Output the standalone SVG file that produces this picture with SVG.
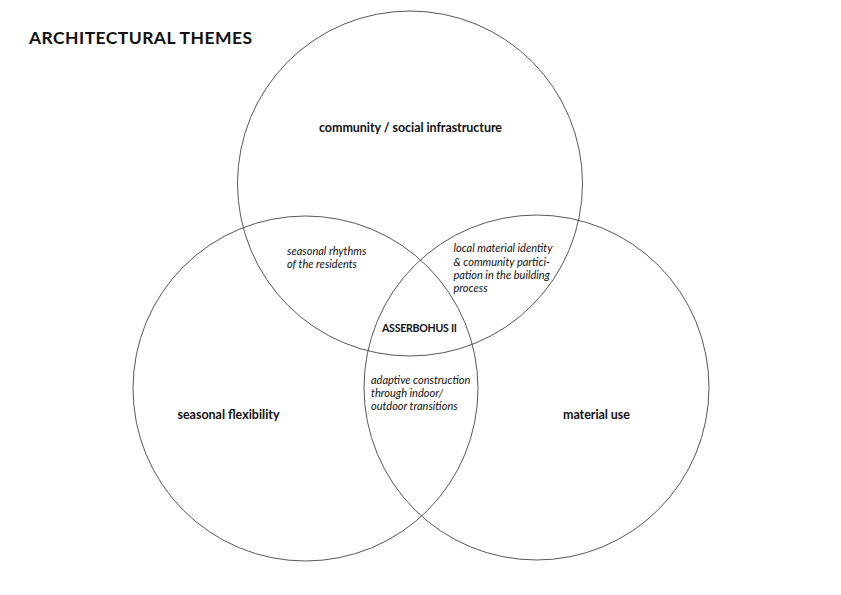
<svg xmlns="http://www.w3.org/2000/svg" width="841" height="595" viewBox="0 0 841 595">
<style>
.c{fill:none;stroke:#444;stroke-width:0.9}
.t{font-family:Lato,"Open Sans","Liberation Sans",sans-serif;fill:#111}
.b{font-weight:bold;font-size:12.5px}
.s{font-weight:bold;font-size:10.6px}
.i{font-style:italic;font-size:11px}
.h{font-weight:bold;font-size:17.5px}
</style>
<rect width="841" height="595" fill="#fff"/>
<text class="t h" x="29" y="44" textLength="223">ARCHITECTURAL THEMES</text>
<g id="community">
<circle class="c" cx="410" cy="183.5" r="172.5"/>
<text class="t b" x="410.5" y="132" text-anchor="middle" textLength="183">community / social infrastructure</text>
</g>
<g id="seasonal">
<circle class="c" cx="305.5" cy="388.5" r="172.5"/>
<text class="t b" x="228.5" y="418.5" text-anchor="middle" textLength="102">seasonal flexibility</text>
</g>
<g id="material">
<circle class="c" cx="536.5" cy="387.5" r="172.5"/>
<text class="t b" x="596.5" y="418.5" text-anchor="middle" textLength="67">material use</text>
</g>
<g id="rhythms">
<text class="t i" x="287" y="255">seasonal rhythms</text>
<text class="t i" x="287" y="268">of the residents</text>
</g>
<g id="identity">
<text class="t i" x="453.5" y="252">local material identity</text>
<text class="t i" x="453.5" y="265.5">&amp; community partici-</text>
<text class="t i" x="453.5" y="278.5">pation in the building</text>
<text class="t i" x="453.5" y="291.5">process</text>
</g>
<g id="adaptive">
<text class="t i" x="371" y="383.5">adaptive construction</text>
<text class="t i" x="371" y="397">through indoor/</text>
<text class="t i" x="371" y="410">outdoor transitions</text>
</g>
<g id="center">
<text class="t s" x="419.5" y="331.5" text-anchor="middle" textLength="75">ASSERBOHUS II</text>
</g>
<g id="connectors"/>
</svg>
